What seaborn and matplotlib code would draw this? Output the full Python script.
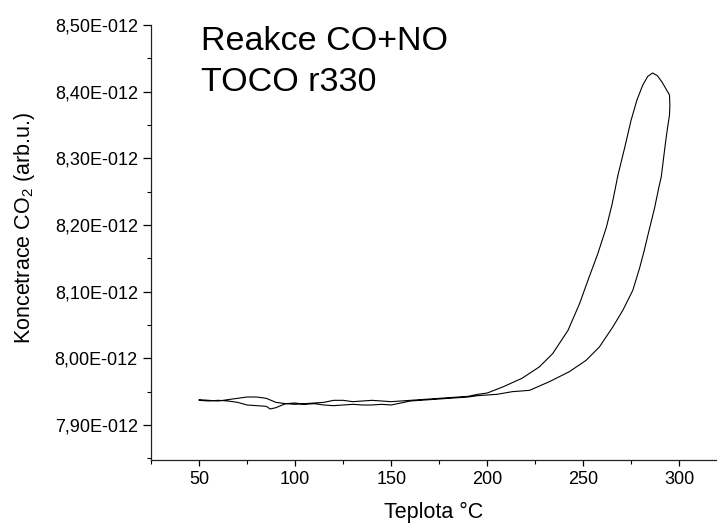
import numpy as np
import pandas as pd
import matplotlib
matplotlib.use("Agg")
import matplotlib.pyplot as plt
from matplotlib.ticker import MultipleLocator, FuncFormatter
import seaborn as sns

# Heating branch (temperature in °C, CO2 concentration in 1e-12 arb.u.)
heat_t = [50, 55, 60, 65, 70, 75, 80, 85, 90, 95, 100, 105, 110, 115, 120, 125,
          130, 135, 140, 145, 150, 155, 160, 165, 170, 175, 180, 185, 190, 195,
          200, 208, 218, 227, 234, 242, 248, 253, 257.5, 262, 265, 268, 271.4,
          274.8, 277.8, 280.9, 283.5, 286, 288.5, 291, 293, 294.8]
heat_c = [7.938, 7.937, 7.936, 7.938, 7.940, 7.942, 7.942, 7.940, 7.934, 7.932,
          7.931, 7.932, 7.933, 7.934, 7.937, 7.937, 7.935, 7.936, 7.937, 7.936,
          7.935, 7.936, 7.937, 7.938, 7.939, 7.940, 7.941, 7.942, 7.943, 7.946,
          7.948, 7.957, 7.970, 7.987, 8.007, 8.042, 8.082, 8.122, 8.157, 8.197,
          8.232, 8.275, 8.315, 8.357, 8.387, 8.410, 8.423, 8.428, 8.424, 8.414,
          8.404, 8.395]
# Cooling branch
cool_t = [295, 294.8, 293.5, 292.7, 290.5, 289.3, 287, 284, 281.5, 279.2, 275.7,
          270.5, 265.3, 258.3, 251.4, 242.7, 232.3, 222, 213, 205, 200, 195, 190,
          185, 180, 175, 170, 165, 160, 155, 150, 145, 140, 135, 130, 125, 120,
          115, 110, 105, 100, 95, 90, 87, 85, 80, 75, 70, 65, 60, 55, 50]
cool_c = [8.380, 8.365, 8.340, 8.323, 8.272, 8.257, 8.225, 8.190, 8.160, 8.135,
          8.102, 8.072, 8.047, 8.017, 7.997, 7.980, 7.965, 7.952, 7.950, 7.946,
          7.945, 7.944, 7.942, 7.941, 7.940, 7.939, 7.938, 7.937, 7.936, 7.933,
          7.930, 7.931, 7.930, 7.930, 7.931, 7.930, 7.929, 7.930, 7.932, 7.931,
          7.933, 7.932, 7.926, 7.924, 7.928, 7.929, 7.930, 7.934, 7.936, 7.937,
          7.936, 7.937]

title_lines = ["Reakce CO+NO", "TOCO r330"]
x_ticks = [50, 100, 150, 200, 250, 300]
y_ticks = [7.90, 8.00, 8.10, 8.20, 8.30, 8.40, 8.50]

temps = heat_t + cool_t
conc = [c * 1e-12 for c in heat_c + cool_c]
df = pd.DataFrame({"t": temps, "c": conc, "order": range(len(temps))})

sns.set_style("ticks")
plt.rcParams["font.family"] = ["Liberation Sans", "DejaVu Sans"]
plt.rcParams["mathtext.fontset"] = "custom"
plt.rcParams["mathtext.rm"] = "Liberation Sans"
plt.rcParams["text.color"] = "black"
plt.rcParams["axes.labelcolor"] = "black"

fig = plt.figure(figsize=(7.17, 5.23), dpi=100)
ax = fig.add_axes([151 / 717, 1 - 460 / 523, (716 - 151) / 717, (460 - 25) / 523])

sns.lineplot(data=df, x="t", y="c", sort=False, estimator=None, ax=ax,
             color="black", linewidth=0.8)

ax.set_xlim(25, 319)
ax.set_ylim(7.8475e-12, 8.50e-12)
ax.set_xticks(x_ticks)
ax.set_yticks([v * 1e-12 for v in y_ticks])
ax.xaxis.set_minor_locator(MultipleLocator(25))
ax.yaxis.set_minor_locator(MultipleLocator(0.05e-12))
ax.yaxis.set_major_formatter(FuncFormatter(
    lambda v, p: f"{v / 1e-12:.2f}".replace(".", ",") + "E-012"))

for s in ["top", "right"]:
    ax.spines[s].set_visible(False)
for s in ["left", "bottom"]:
    ax.spines[s].set_linewidth(0.9)
    ax.spines[s].set_color("#222222")

ax.tick_params(axis="y", which="major", direction="out", length=5.5,
               width=0.9, labelsize=13, colors="black", pad=4)
ax.tick_params(axis="x", which="major", direction="out", length=4.3,
               width=0.9, labelsize=13, colors="black", pad=3.3)
ax.tick_params(axis="both", which="minor", direction="out", length=3, width=0.8,
               colors="black")

ax.set_xlabel("Teplota °C", fontsize=15.5, labelpad=10.5, color="black")
ax.set_ylabel(r"Koncetrace CO$_\mathregular{2}$ (arb.u.)", fontsize=15.5, color="black")
ax.yaxis.set_label_coords((37 - 151) / 565, 0.533)

fig.text(201 / 717, 1 - 50 / 523, title_lines[0], fontsize=24.5, ha="left",
         va="baseline", color="black")
fig.text(201 / 717, 1 - 91 / 523, title_lines[1], fontsize=24.5, ha="left",
         va="baseline", color="black")

fig.savefig("out.png", dpi=100)
